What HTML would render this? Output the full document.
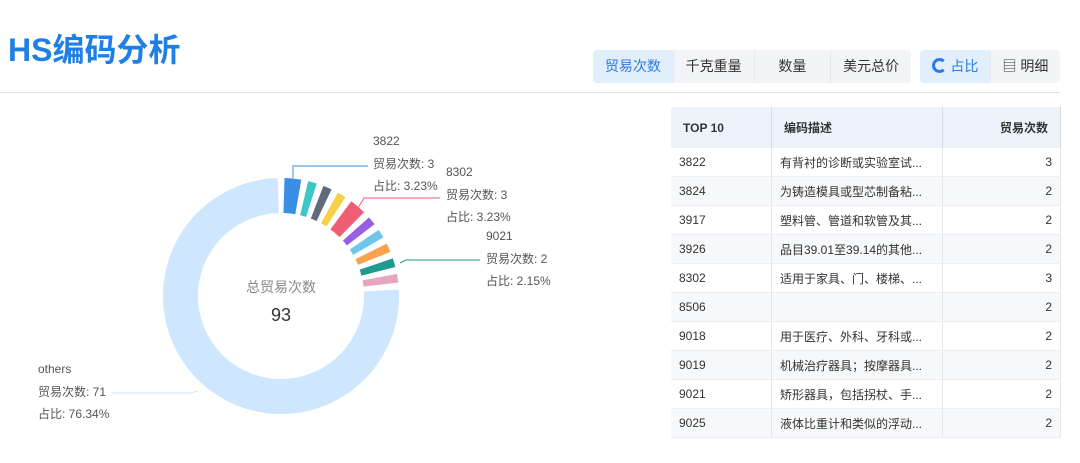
<!DOCTYPE html>
<html><head><meta charset="utf-8"><style>
body{margin:0;width:1080px;height:463px;background:#fff;font-family:"Liberation Sans","Noto Sans CJK SC",sans-serif;position:relative;overflow:hidden}
.t{position:absolute;left:8px;top:25px;font-size:32px;font-weight:bold;color:#1f7fe5}
.hr{position:absolute;left:0;top:92px;width:1060px;height:1px;background:#e0e0e0}
.g{position:absolute;top:50px;height:33px;background:#f2f4f7;border-radius:4px;display:flex}
.g div{font-size:14px;color:#333;line-height:33px;text-align:center;border-right:1px solid #e6e8ec}
.g div.a{background:#e1eefc;color:#2c7be5;border-radius:4px}
table{position:absolute;left:671px;top:107px;width:390px;border-collapse:collapse;font-size:12px;color:#333}
th{background:#edf2fb;height:41px;font-weight:bold;text-align:left;padding:0 12px;border-right:1px solid #d6dbe4}
td{height:28px;padding:0 8px;border-bottom:1px solid #eceef2;border-right:1px solid #e3e6ea}
tr:nth-child(odd) td{background:#f7f8fa}
td:last-child,th:last-child{text-align:right}
.lb{position:absolute;font-size:12px;color:#555;line-height:22.5px}
</style></head><body>
<div class="t">HS编码分析</div>
<div class="g" style="left:593px;width:318px"><div class="a" style="width:80px">贸易次数</div><div style="width:80px">千克重量</div><div style="width:76px">数量</div><div style="width:80px;border:0">美元总价</div></div>
<div class="g" style="left:920px;width:140px"><div class="a" style="width:70px"><span style="display:inline-block;width:9px;height:9px;border:3px solid #2c7be5;border-right-color:#e1eefc;border-radius:50%;vertical-align:-2px"></span> 占比</div><div style="width:69px;border:0">▤ 明细</div></div>
<div class="hr"></div>
<svg width="670" height="463" style="position:absolute;left:0;top:0">
<g transform="rotate(-90 281 296)" fill="none" stroke-width="35">
<circle cx="281" cy="296" r="100.5" stroke="#3a8ee6" stroke-dasharray="14.37 1000" stroke-dashoffset="-3"/>
<circle cx="281" cy="296" r="100.5" stroke="#3cc8c8" stroke-dasharray="7.58 1000" stroke-dashoffset="-23.37"/>
<circle cx="281" cy="296" r="100.5" stroke="#5f6b7d" stroke-dasharray="7.58 1000" stroke-dashoffset="-36.95"/>
<circle cx="281" cy="296" r="100.5" stroke="#f5d14a" stroke-dasharray="7.58 1000" stroke-dashoffset="-50.53"/>
<circle cx="281" cy="296" r="100.5" stroke="#ef5e73" stroke-dasharray="14.37 1000" stroke-dashoffset="-64.11"/>
<circle cx="281" cy="296" r="100.5" stroke="#9860e0" stroke-dasharray="7.58 1000" stroke-dashoffset="-84.48"/>
<circle cx="281" cy="296" r="100.5" stroke="#6ec6ea" stroke-dasharray="7.58 1000" stroke-dashoffset="-98.06"/>
<circle cx="281" cy="296" r="100.5" stroke="#f7a24c" stroke-dasharray="7.58 1000" stroke-dashoffset="-111.64"/>
<circle cx="281" cy="296" r="100.5" stroke="#1f9a8f" stroke-dasharray="7.58 1000" stroke-dashoffset="-125.22"/>
<circle cx="281" cy="296" r="100.5" stroke="#e7a6c0" stroke-dasharray="7.58 1000" stroke-dashoffset="-138.8"/>
<circle cx="281" cy="296" r="100.5" stroke="#cfe6ff" stroke-dasharray="476.1 1000" stroke-dashoffset="-152.38"/>
</g>
<polyline points="293,178 293,166 368,166" fill="none" stroke="#3a8ee6"/>
<polyline points="358,208 364,198 440,198" fill="none" stroke="#ef5e73"/>
<polyline points="400,263 406,260 480,260" fill="none" stroke="#1f9a8f"/>
<polyline points="198,391 190,393 112,393" fill="none" stroke="#cfe6ff"/>
<text x="281" y="292" text-anchor="middle" font-size="14" fill="#888" font-family="Liberation Sans,Noto Sans CJK SC,sans-serif">总贸易次数</text>
<text x="281" y="321" text-anchor="middle" font-size="18" fill="#333" font-family="Liberation Sans,sans-serif">93</text>
</svg>
<div class="lb" style="left:373px;top:130px">3822<br>贸易次数: 3<br>占比: 3.23%</div>
<div class="lb" style="left:446px;top:161px">8302<br>贸易次数: 3<br>占比: 3.23%</div>
<div class="lb" style="left:486px;top:225px">9021<br>贸易次数: 2<br>占比: 2.15%</div>
<div class="lb" style="left:38px;top:358px">others<br>贸易次数: 71<br>占比: 76.34%</div>
<table>
<tr><th style="width:76px">TOP 10</th><th style="width:146px">编码描述</th><th>贸易次数</th></tr>
<tr><td>3822</td><td>有背衬的诊断或实验室试...</td><td>3</td></tr>
<tr><td>3824</td><td>为铸造模具或型芯制备粘...</td><td>2</td></tr>
<tr><td>3917</td><td>塑料管、管道和软管及其...</td><td>2</td></tr>
<tr><td>3926</td><td>品目39.01至39.14的其他...</td><td>2</td></tr>
<tr><td>8302</td><td>适用于家具、门、楼梯、...</td><td>3</td></tr>
<tr><td>8506</td><td></td><td>2</td></tr>
<tr><td>9018</td><td>用于医疗、外科、牙科或...</td><td>2</td></tr>
<tr><td>9019</td><td>机械治疗器具；按摩器具...</td><td>2</td></tr>
<tr><td>9021</td><td>矫形器具，包括拐杖、手...</td><td>2</td></tr>
<tr><td>9025</td><td>液体比重计和类似的浮动...</td><td>2</td></tr>
</table>
</body></html>
